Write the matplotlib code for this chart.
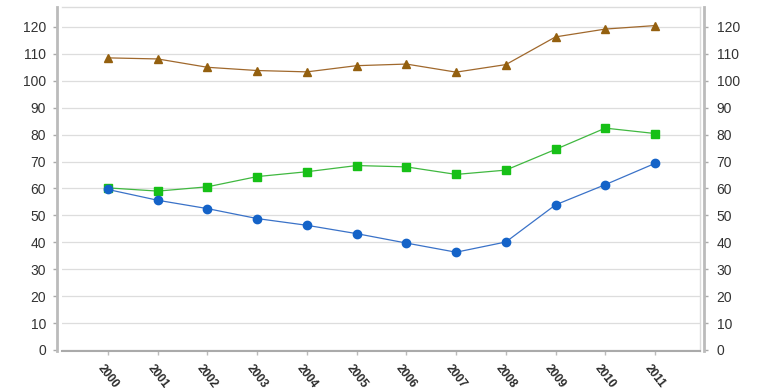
import matplotlib.pyplot as plt
import numpy as np

plt.rcParams['font.family'] = ['Liberation Sans', 'DejaVu Sans']

years = [2000, 2001, 2002, 2003, 2004, 2005, 2006, 2007, 2008, 2009, 2010, 2011]
brown = [108.5, 108.1, 105.0, 103.8, 103.3, 105.6, 106.2, 103.2, 106.0, 116.3, 119.2, 120.5]
green = [60.2, 59.0, 60.6, 64.4, 66.2, 68.5, 68.0, 65.2, 66.8, 74.5, 82.4, 80.4]
blue = [59.6, 55.6, 52.5, 48.8, 46.3, 43.2, 39.7, 36.3, 40.1, 53.9, 61.4, 69.3]
yticks = list(range(0, 121, 10))

fig = plt.figure(figsize=(7.59, 3.89), dpi=100)
ax = fig.add_axes([0.0817, 0.0977, 0.8406, 0.8843])

ax.plot(years, brown, color='#a0682c', lw=0.9, marker='^', ms=6,
        markerfacecolor='#94600f', markeredgecolor='#94600f')
ax.plot(years, green, color='#40b840', lw=0.9, marker='s', ms=6,
        markerfacecolor='#17c017', markeredgecolor='#17c017')
ax.plot(years, blue, color='#3a72c8', lw=0.9, marker='o', ms=6,
        markerfacecolor='#1463c8', markeredgecolor='#1463c8')

ylim = (-0.4, 127.4)
ax.set_xlim(1999.075, 2011.905)
ax.set_ylim(ylim)
ax.set_yticks(yticks)
ax.set_xticks(years)
ax.set_xticklabels([str(y) for y in years], rotation=-52, ha='center', va='top',
                   fontsize=8.5, fontweight='bold', color='#2a2a2a')
ax.grid(axis='y', color='#dddddd', lw=0.9)
ax.set_axisbelow(True)

for s in ['top', 'right']:
    ax.spines[s].set_color('#dcdcdc')
    ax.spines[s].set_linewidth(1)
ax.spines['bottom'].set_color('#aaaaaa')
ax.spines['bottom'].set_linewidth(1.5)
ax.spines['left'].set_color('#bbbbbb')
ax.spines['left'].set_linewidth(2)
ax.spines['left'].set_position(('outward', 3.6))

ax.tick_params(axis='y', colors='#aaaaaa', labelcolor='#333333', labelsize=10, length=3, width=1, pad=5)
ax.tick_params(axis='x', colors='#bbbbbb', labelcolor='#2a2a2a', length=3, width=1, pad=5)

ax2 = ax.twinx()
ax2.set_ylim(ylim)
ax2.set_yticks(yticks)
for s in ['top', 'left', 'bottom']:
    ax2.spines[s].set_visible(False)
ax2.spines['right'].set_color('#bbbbbb')
ax2.spines['right'].set_linewidth(2)
ax2.spines['right'].set_position(('outward', 3))
ax2.tick_params(axis='y', colors='#aaaaaa', labelcolor='#333333', labelsize=10, length=3, width=1, pad=6)

fig.savefig('out.png', dpi=100)
